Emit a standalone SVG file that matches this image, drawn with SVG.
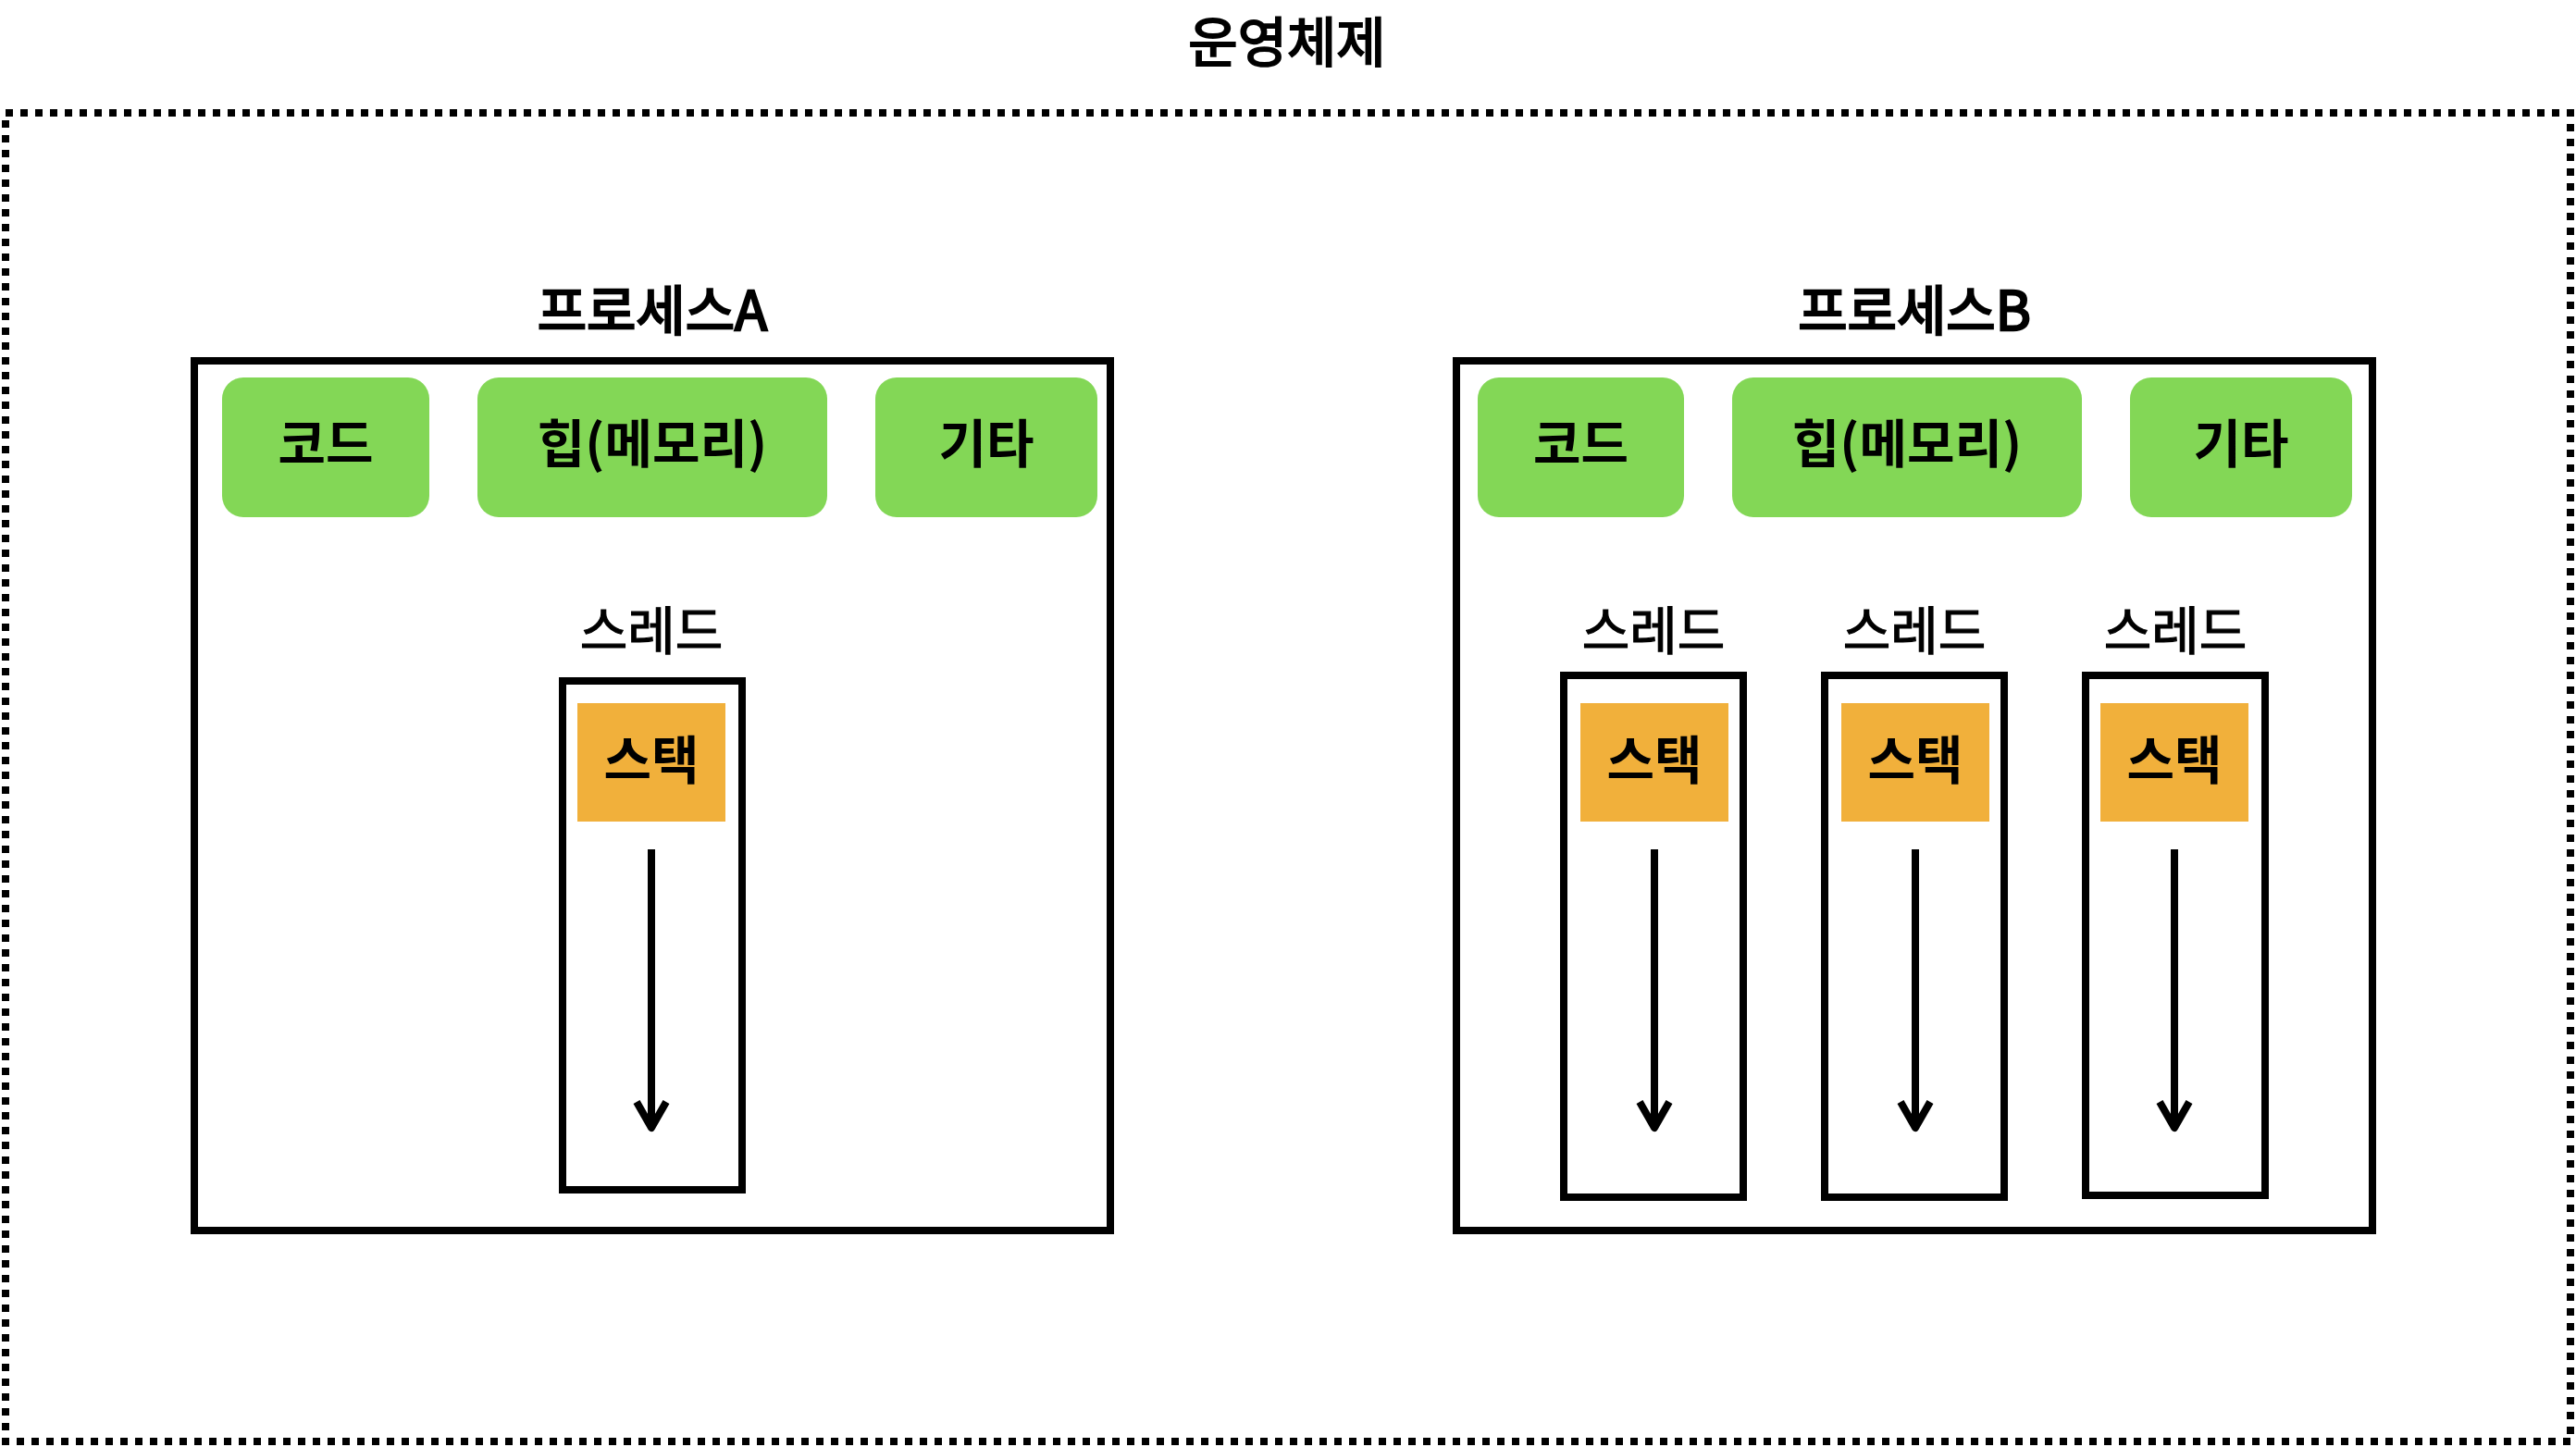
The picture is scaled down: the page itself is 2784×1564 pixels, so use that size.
<svg xmlns="http://www.w3.org/2000/svg" width="2784" height="1564" viewBox="0 0 2784 1564">
  <style>
    text { font-family: "Noto Sans CJK KR", "Noto Sans", sans-serif; fill: #000; text-anchor: middle; }
    .title { font-size: 58px; font-weight: 400; stroke: #000; stroke-width: 2; }
    .ptitle { font-size: 58px; font-weight: 400; stroke: #000; stroke-width: 2.4; }
    .lbl { font-size: 56px; font-weight: 700; }
    .thr { font-size: 56px; font-weight: 400; stroke: #000; stroke-width: 1.2; }
    .outer { fill: none; stroke: #000; stroke-width: 8; stroke-dasharray: 8 8; }
    .proc { fill: #fff; stroke: #000; stroke-width: 8; }
    .thread { fill: #fff; stroke: #000; stroke-width: 8; }
    .green { fill: #83D756; }
    .stack { fill: #F1B03B; }
    .conn { fill: none; stroke: #000; stroke-width: 8; }
  </style>
  <defs>
    <marker id="arrow" markerUnits="userSpaceOnUse" orient="auto" refX="0" refY="0" markerWidth="40" markerHeight="40" overflow="visible">
      <path d="M -28 -16 L 0 0 L -28 16" fill="none" stroke="#000" stroke-width="8" stroke-linejoin="round" stroke-linecap="butt"/>
    </marker>
  </defs>
  <rect width="2784" height="1564" fill="#fff"/>

  <g id="os">
    <rect class="outer" x="6" y="122" width="2772" height="1436"/>
    <text class="title" x="1391" y="67">운영체제</text>
  </g>

  <g id="processA">
    <rect class="proc" x="210" y="390" width="990" height="940"/>
    <text class="ptitle" x="705" y="357">프로세스A</text>
  </g>
  <g id="A-code">
    <rect class="green" x="240" y="408" width="224" height="151" rx="23" ry="23"/>
    <text class="lbl" x="352" y="500">코드</text>
  </g>
  <g id="A-heap">
    <rect class="green" x="516" y="408" width="378" height="151" rx="23" ry="23"/>
    <text class="lbl" x="705" y="500">힙(메모리)</text>
  </g>
  <g id="A-etc">
    <rect class="green" x="946" y="408" width="240" height="151" rx="23" ry="23"/>
    <text class="lbl" x="1066" y="500">기타</text>
  </g>
  <g id="A-thread1">
    <text class="thr" x="704" y="702">스레드</text>
    <rect class="thread" x="608" y="736" width="194" height="550"/>
  </g>
  <g id="A-stack1">
    <rect class="stack" x="624" y="760" width="160" height="128"/>
    <text class="lbl" x="704" y="842">스택</text>
  </g>

  <g id="processB">
    <rect class="proc" x="1574" y="390" width="990" height="940"/>
    <text class="ptitle" x="2069" y="357">프로세스B</text>
  </g>
  <g id="B-code">
    <rect class="green" x="1597" y="408" width="223" height="151" rx="23" ry="23"/>
    <text class="lbl" x="1708.5" y="500">코드</text>
  </g>
  <g id="B-heap">
    <rect class="green" x="1872" y="408" width="378" height="151" rx="23" ry="23"/>
    <text class="lbl" x="2061" y="500">힙(메모리)</text>
  </g>
  <g id="B-etc">
    <rect class="green" x="2302" y="408" width="240" height="151" rx="23" ry="23"/>
    <text class="lbl" x="2422" y="500">기타</text>
  </g>
  <g id="B-thread1">
    <text class="thr" x="1787" y="702">스레드</text>
    <rect class="thread" x="1690" y="730" width="194" height="564"/>
  </g>
  <g id="B-stack1">
    <rect class="stack" x="1708" y="760" width="160" height="128"/>
    <text class="lbl" x="1788" y="842">스택</text>
  </g>
  <g id="B-thread2">
    <text class="thr" x="2069" y="702">스레드</text>
    <rect class="thread" x="1972" y="730" width="194" height="564"/>
  </g>
  <g id="B-stack2">
    <rect class="stack" x="1990" y="760" width="160" height="128"/>
    <text class="lbl" x="2070" y="842">스택</text>
  </g>
  <g id="B-thread3">
    <text class="thr" x="2351" y="702">스레드</text>
    <rect class="thread" x="2254" y="730" width="194" height="562"/>
  </g>
  <g id="B-stack3">
    <rect class="stack" x="2270" y="760" width="160" height="128"/>
    <text class="lbl" x="2350" y="842">스택</text>
  </g>

  <g id="connectors">
    <line class="conn" x1="704" y1="918" x2="704" y2="1219" marker-end="url(#arrow)"/>
    <line class="conn" x1="1788" y1="918" x2="1788" y2="1219" marker-end="url(#arrow)"/>
    <line class="conn" x1="2070" y1="918" x2="2070" y2="1219" marker-end="url(#arrow)"/>
    <line class="conn" x1="2350" y1="918" x2="2350" y2="1219" marker-end="url(#arrow)"/>
  </g>
</svg>
